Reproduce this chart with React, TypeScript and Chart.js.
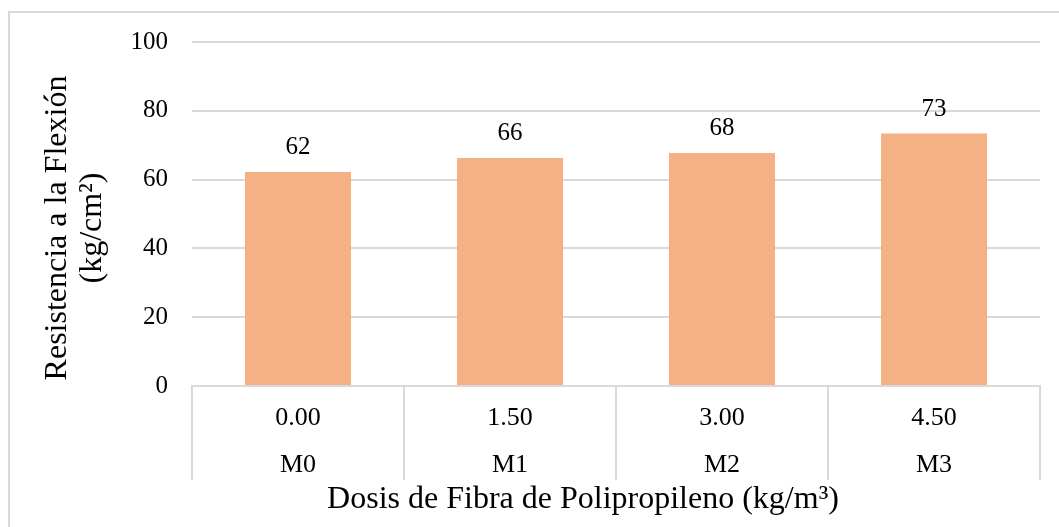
import React, { useEffect, useRef } from "react";
import { Chart, registerables } from "chart.js";

Chart.register(...registerables);

const doses = ["0.00", "1.50", "3.00", "4.50"];
const mixes = ["M0", "M1", "M2", "M3"];
const strength = [62.2, 66.3, 67.7, 73.4];
const yTitle = ["Resistencia a la Flexión", "(kg/cm²)"];
const xTitle = "Dosis de Fibra de Polipropileno (kg/m³)";

const FONT = "'Liberation Serif', 'Times New Roman', serif";
const GRID = "#D9D9D9";
const BAR = "#F4B183";

export default function App() {
  const ref = useRef<HTMLCanvasElement | null>(null);

  useEffect(() => {
    const canvas = ref.current;
    if (!canvas) return;

    const decor = {
      id: "decor",
      beforeDraw(chart: any) {
        const ctx = chart.ctx;
        ctx.save();
        ctx.strokeStyle = GRID;
        ctx.lineWidth = 2;
        ctx.strokeRect(9, 12, 2000, 2000);
        ctx.restore();
      },
      afterDraw(chart: any) {
        const ctx = chart.ctx;
        const area = chart.chartArea;
        ctx.save();
        ctx.fillStyle = "#000";
        // data labels
        ctx.font = `25px ${FONT}`;
        ctx.textAlign = "center";
        ctx.textBaseline = "alphabetic";
        const meta = chart.getDatasetMeta(0);
        meta.data.forEach((bar: any, i: number) => {
          ctx.fillText(String(Math.round(strength[i])), bar.x, bar.y - 18);
        });
        // x title
        ctx.font = `32px ${FONT}`;
        ctx.textBaseline = "middle";
        ctx.fillText(xTitle, area.left + (area.right - area.left) / 2 - 33, 500);
        // y title
        const cy = area.top + (area.bottom - area.top) / 2 + 14;
        ctx.save();
        ctx.translate(58, cy);
        ctx.rotate(-Math.PI / 2);
        ctx.fillText(yTitle[0], 0, 0);
        ctx.restore();
        ctx.save();
        ctx.translate(93, cy);
        ctx.rotate(-Math.PI / 2);
        ctx.fillText(yTitle[1], 0, 0);
        ctx.restore();
        ctx.restore();
      },
    };

    const chart = new Chart(canvas, {
      type: "bar",
      data: {
        labels: doses.map((d, i) => [d, mixes[i]]),
        datasets: [
          {
            data: strength,
            backgroundColor: BAR,
            borderWidth: 0,
            categoryPercentage: 1,
            barPercentage: 0.5,
          },
        ],
      },
      options: {
        responsive: false,
        animation: false,
        layout: { padding: { top: 42, right: 19, left: 0, bottom: 0 } },
        plugins: {
          legend: { display: false },
          tooltip: { enabled: false },
        },
        scales: {
          x: {
            offset: true,
            grid: {
              offset: true,
              drawOnChartArea: false,
              drawTicks: true,
              tickLength: 94,
              color: GRID,
              lineWidth: 2,
            },
            border: { display: true, color: GRID, width: 2 },
            ticks: {
              color: "#000",
              font: { family: FONT, size: 26, lineHeight: 1.8 },
              padding: -85,
              maxRotation: 0,
            },
            afterFit(scale: any) {
              scale.height = 141;
            },
          },
          y: {
            min: 0,
            max: 100,
            ticks: {
              stepSize: 20,
              color: "#000",
              font: { family: FONT, size: 25 },
              padding: 24,
            },
            grid: { color: GRID, lineWidth: 2, drawTicks: false },
            border: { display: false },
            afterFit(scale: any) {
              scale.width = 192;
            },
          },
        },
      },
      plugins: [decor],
    });

    return () => chart.destroy();
  }, []);

  return (
    <div style={{ position: "fixed", left: 0, top: 0, width: 1059, height: 527, background: "#fff" }}>
      <canvas ref={ref} width={1059} height={527} />
    </div>
  );
}
